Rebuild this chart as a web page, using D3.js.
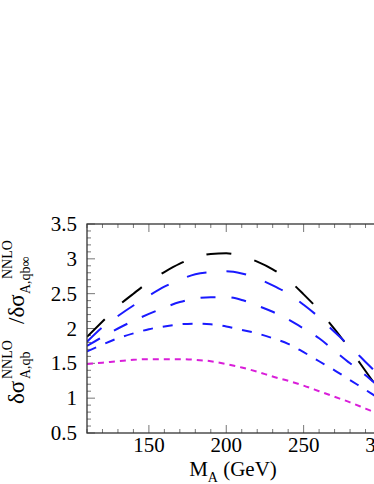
<!DOCTYPE html>
<html>
<head>
<meta charset="utf-8">
<script src="https://cdn.jsdelivr.net/npm/d3@7"></script>
<style>
  html, body { margin: 0; padding: 0; background: #fff; }
  svg { display: block; font-family: "Liberation Serif", "DejaVu Serif", serif; }
</style>
</head>
<body>
<div id="chart"></div>
<script>
// Chart data
const massPoints = [110, 120, 130, 140, 150, 160, 170, 180, 190, 200, 210, 220, 230, 240, 250, 260, 270, 280, 290, 300, 310];
const ratioBlack = [1.88, 2.10, 2.32, 2.50, 2.67, 2.81, 2.93, 3.02, 3.07, 3.08, 3.04, 2.96, 2.85, 2.70, 2.49, 2.26, 1.99, 1.70, 1.39, 1.08, 0.80];
const ratioBlue1 = [1.81, 2.02, 2.18, 2.33, 2.47, 2.60, 2.70, 2.78, 2.81, 2.82, 2.79, 2.72, 2.62, 2.50, 2.34, 2.16, 1.95, 1.74, 1.52, 1.30, 1.08];
const ratioBlue2 = [1.75, 1.88, 2.00, 2.11, 2.21, 2.30, 2.38, 2.43, 2.45, 2.45, 2.41, 2.33, 2.24, 2.13, 2.00, 1.86, 1.68, 1.50, 1.33, 1.14, 0.96];
const ratioBlue3 = [1.67, 1.77, 1.86, 1.93, 1.99, 2.03, 2.06, 2.07, 2.06, 2.03, 1.98, 1.93, 1.86, 1.78, 1.66, 1.53, 1.40, 1.26, 1.12, 0.98, 0.85];
const ratioMagenta = [1.49, 1.51, 1.53, 1.55, 1.56, 1.56, 1.56, 1.55, 1.53, 1.49, 1.44, 1.38, 1.31, 1.25, 1.18, 1.10, 1.02, 0.94, 0.85, 0.76, 0.68];
const xTicks = [150, 200, 250, 300];
const yTicks = [0.5, 1, 1.5, 2, 2.5, 3, 3.5];

const series = [
  { values: ratioBlack,   color: "#000000", dash: "25,24" },
  { values: ratioBlue1,   color: "#1a1aff", dash: "20,20" },
  { values: ratioBlue2,   color: "#1a1aff", dash: "15,16" },
  { values: ratioBlue3,   color: "#1a1aff", dash: "10,10" },
  { values: ratioMagenta, color: "#d91ed9", dash: "6,5" }
];

// Dimensions (plot runs past the right edge of the window, like the reference)
const W = 374, H = 484;
const margin = { top: 224, left: 87 };
const width = 294, height = 209;

const svg = d3.select("#chart")
  .append("svg")
  .attr("width", W)
  .attr("height", H);

const g = svg.append("g")
  .attr("transform", `translate(${margin.left},${margin.top})`);

// Scales
const x = d3.scaleLinear().domain([110, 300]).range([0, width]);
const y = d3.scaleLinear().domain([0.5, 3.5]).range([height, 0]);

// Clip for curves
g.append("clipPath")
  .attr("id", "plot-clip")
  .append("rect")
  .attr("width", width)
  .attr("height", height);

// Minor and major ticks (pointing inwards)
const minorX = d3.range(110, 301, 10);
const minorY = d3.range(0.5, 3.51, 0.1);
const tickColor = "#777";

g.selectAll(".x-minor-b")
  .data(minorX)
  .enter().append("line")
  .attr("x1", d => x(d)).attr("x2", d => x(d))
  .attr("y1", height).attr("y2", d => height - (xTicks.includes(Math.round(d)) ? 8 : 4))
  .attr("stroke", tickColor).attr("stroke-width", 1);

g.selectAll(".x-minor-t")
  .data(minorX)
  .enter().append("line")
  .attr("x1", d => x(d)).attr("x2", d => x(d))
  .attr("y1", 0).attr("y2", d => (xTicks.includes(Math.round(d)) ? 8 : 4))
  .attr("stroke", tickColor).attr("stroke-width", 1);

g.selectAll(".y-minor")
  .data(minorY)
  .enter().append("line")
  .attr("y1", d => y(d)).attr("y2", d => y(d))
  .attr("x1", 0).attr("x2", d => (Math.abs(d * 2 - Math.round(d * 2)) < 1e-6 ? 8 : 4))
  .attr("stroke", tickColor).attr("stroke-width", 1);

// Curves
const line = d3.line()
  .x((d, i) => x(massPoints[i]))
  .y(d => y(d))
  .curve(d3.curveMonotoneX);

g.append("g")
  .attr("clip-path", "url(#plot-clip)")
  .selectAll("path")
  .data(series)
  .enter().append("path")
  .attr("d", d => line(d.values))
  .attr("fill", "none")
  .attr("stroke", d => d.color)
  .attr("stroke-width", 2)
  .attr("stroke-dasharray", d => d.dash);

// Frame
g.append("rect")
  .attr("width", width)
  .attr("height", height)
  .attr("fill", "none")
  .attr("stroke", "#333")
  .attr("stroke-width", 1.3);

// Tick labels (the 300 label is cut by the window edge, as in the reference)
g.selectAll(".x-label")
  .data(xTicks)
  .enter().append("text")
  .attr("x", d => x(d))
  .attr("y", height + 19)
  .attr("text-anchor", "middle")
  .style("font-size", "21px")
  .text(d => d);

g.selectAll(".y-label")
  .data(yTicks)
  .enter().append("text")
  .attr("x", -10)
  .attr("y", d => y(d) + 7)
  .attr("text-anchor", "end")
  .style("font-size", "21px")
  .text(d => d);

// X axis title
const xTitle = svg.append("text")
  .attr("x", 233)
  .attr("y", 476)
  .attr("text-anchor", "middle")
  .style("font-size", "21px");
xTitle.append("tspan").text("M");
xTitle.append("tspan").attr("dy", 6).style("font-size", "14px").text("A");
xTitle.append("tspan").attr("dy", -6).text(" (GeV)");

// Y axis title (rotated, pieces placed along the text direction)
const yTitle = svg.append("g")
  .attr("transform", "translate(24,404) rotate(-90)");

const yParts = [
  { text: "δσ",     x: 0,   y: 0,   size: 23 },
  { text: "NNLO",   x: 25,  y: -12, size: 14 },
  { text: "A,qb",   x: 25,  y: 6,   size: 14 },
  { text: "/δσ",    x: 80,  y: 0,   size: 23 },
  { text: "A,qb∞",  x: 110, y: 6,   size: 14 },
  { text: "NNLO",   x: 125, y: -12, size: 14 }
];

yTitle.selectAll("text")
  .data(yParts)
  .enter().append("text")
  .attr("x", d => d.x)
  .attr("y", d => d.y)
  .style("font-size", d => d.size + "px")
  .text(d => d.text);
</script>
</body>
</html>
